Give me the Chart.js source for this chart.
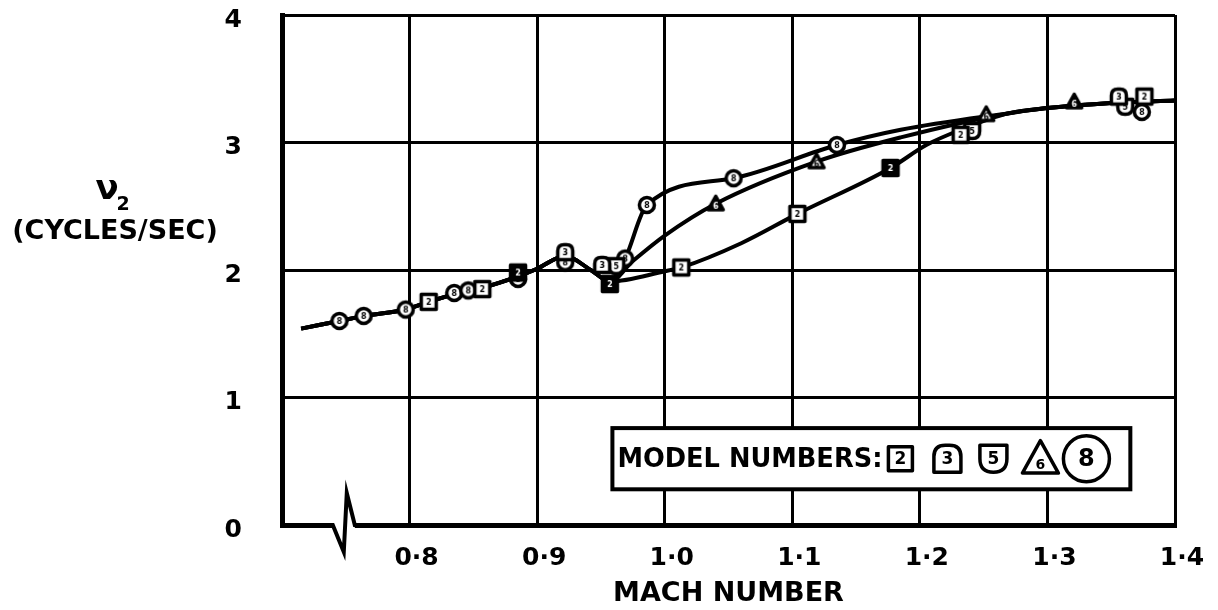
<!DOCTYPE html>
<html lang="en">
<head>
<meta charset="UTF-8">
<title>Mach number vs frequency</title>
<script src="https://cdn.jsdelivr.net/npm/chart.js@4"></script>
<style>
    html, body { margin: 0; padding: 0; background: #fff; }
    #wrap { width: 1218px; height: 610px; }
</style>
</head>
<body>
<div id="wrap"><canvas id="chart" width="1218" height="610"></canvas></div>
<script>
// Axis ticks
const machTicks = [0.7, 0.8, 0.9, 1.0, 1.1, 1.2, 1.3, 1.4];
const machTickLabels = ['', '0·8', '0·9', '1·0', '1·1', '1·2', '1·3', '1·4'];
const freqTicks = [0, 1, 2, 3, 4];
const freqTickLabels = ['0', '1', '2', '3', '4'];

// Faired curves: common subsonic part, three branches, common supersonic part
const lowMach = [0.715, 0.745, 0.765, 0.797, 0.815, 0.835, 0.857, 0.885, 0.900, 0.922, 0.942, 0.957];
const lowV = [1.54, 1.60, 1.64, 1.69, 1.75, 1.81, 1.86, 1.95, 2.01, 2.11, 2.00, 1.91];
const branch8Mach = [0.969, 0.986, 1.054, 1.135, 1.185];
const branch8V = [2.09, 2.51, 2.72, 2.98, 3.10];
const branch6Mach = [0.975, 1.0, 1.040, 1.119, 1.185];
const branch6V = [2.07, 2.27, 2.52, 2.85, 3.04];
const branch2Mach = [1.0, 1.013, 1.06, 1.104, 1.177, 1.205, 1.232];
const branch2V = [1.99, 2.02, 2.21, 2.44, 2.80, 2.98, 3.10];
const highMach = [1.27, 1.30, 1.35, 1.40];
const highV = [3.23, 3.27, 3.31, 3.33];

// Test points by model number
const m2Mach = [0.815, 0.857, 0.885, 0.957, 1.013, 1.104, 1.177, 1.232, 1.376];
const m2V = [1.75, 1.85, 1.98, 1.89, 2.02, 2.44, 2.80, 3.06, 3.36];
const m2Filled = [false, false, true, true, false, false, true, false, false];
const m3Mach = [0.922, 0.951, 1.356];
const m3V = [2.14, 2.04, 3.36];
const m5Mach = [0.962, 1.241, 1.361];
const m5V = [2.03, 3.09, 3.28];
const m6Mach = [1.040, 1.119, 1.252, 1.321];
const m6V = [2.52, 2.85, 3.22, 3.32];
const m6Filled = [true, false, false, true];
const m8Mach = [0.745, 0.764, 0.797, 0.835, 0.846, 0.885, 0.922, 0.969, 0.986, 1.054, 1.135, 1.374];
const m8V = [1.60, 1.64, 1.69, 1.82, 1.84, 1.93, 2.06, 2.09, 2.51, 2.72, 2.98, 3.24];

const modelNumbers = ['2', '3', '5', '6', '8'];
const modelShapes = ['square', 'dome', 'shield', 'triangle', 'circle'];

const FONT = "'DejaVu Sans', sans-serif";

const toPoints = (xs, ys) => xs.map((x, i) => ({ x, y: ys[i] }));

// Draw one model symbol (shape with its number inside)
function drawSymbol(ctx, shape, cx, cy, s, filled, label, lw, fontPx) {
    const h = s / 2;
    const l = cx - h, r = cx + h, t = cy - h, b = cy + h;
    ctx.save();
    ctx.beginPath();
    if (shape === 'square') {
        ctx.rect(l, t, s, s);
    } else if (shape === 'dome') {
        const k = s * 0.42;
        ctx.moveTo(l, b);
        ctx.lineTo(l, t + k);
        ctx.quadraticCurveTo(l, t, l + k, t);
        ctx.lineTo(r - k, t);
        ctx.quadraticCurveTo(r, t, r, t + k);
        ctx.lineTo(r, b);
    } else if (shape === 'shield') {
        const k = s * 0.5;
        ctx.moveTo(l, t);
        ctx.lineTo(r, t);
        ctx.lineTo(r, b - k);
        ctx.quadraticCurveTo(r, b, cx, b);
        ctx.quadraticCurveTo(l, b, l, b - k);
    } else if (shape === 'triangle') {
        ctx.moveTo(cx, t);
        ctx.lineTo(r, cy + h * 0.8);
        ctx.lineTo(l, cy + h * 0.8);
    } else {
        ctx.arc(cx, cy, h, 0, Math.PI * 2);
    }
    ctx.closePath();
    ctx.fillStyle = filled ? '#000' : '#fff';
    ctx.fill();
    ctx.lineWidth = lw;
    ctx.lineJoin = 'round';
    ctx.strokeStyle = '#000';
    ctx.stroke();
    if (label) {
        ctx.fillStyle = filled ? '#fff' : '#000';
        ctx.font = `bold ${fontPx}px ${FONT}`;
        ctx.textAlign = 'center';
        ctx.textBaseline = 'middle';
        const dy = shape === 'triangle' ? h * 0.3 : 0;
        ctx.fillText(label, cx, cy + dy + 1);
    }
    ctx.restore();
}

// Small canvases used as point styles
function makeMarker(shape, label, filled) {
    const c = document.createElement('canvas');
    c.width = 22;
    c.height = 22;
    drawSymbol(c.getContext('2d'), shape, 11, 11, 15, filled, label, 3.5, 8);
    return c;
}

const markerSets = modelNumbers.map((n, i) => ({
    open: makeMarker(modelShapes[i], n, false),
    filled: makeMarker(modelShapes[i], n, true)
}));

const curveDataset = (label, points) => ({
    label,
    data: points,
    showLine: true,
    borderColor: '#000',
    borderWidth: 4,
    pointRadius: 0,
    fill: false,
    cubicInterpolationMode: 'monotone',
    order: 2
});

const markerDataset = (idx, xs, ys, filledFlags) => ({
    label: 'Model ' + modelNumbers[idx],
    data: toPoints(xs, ys),
    showLine: false,
    pointRadius: 7,
    pointStyle: xs.map((_, i) => (filledFlags && filledFlags[i]) ? markerSets[idx].filled : markerSets[idx].open),
    order: 1
});

// Broken axis mark, y-axis title and model key
const decorations = {
    id: 'decorations',
    afterDraw(chart) {
        const { ctx, chartArea, scales } = chart;
        const x = scales.x, y = scales.y;

        // zig-zag break on the Mach axis
        const bx = x.getPixelForValue(0.75);
        const by = chartArea.bottom;
        ctx.save();
        ctx.fillStyle = '#fff';
        ctx.fillRect(bx - 13, by - 4, 22, 8);
        ctx.beginPath();
        ctx.moveTo(bx - 15, by);
        ctx.lineTo(bx - 13, by);
        ctx.lineTo(bx - 2, by + 27);
        ctx.lineTo(bx + 1, by - 32);
        ctx.lineTo(bx + 9, by);
        ctx.lineTo(bx + 11, by);
        ctx.lineWidth = 4;
        ctx.lineJoin = 'miter';
        ctx.strokeStyle = '#000';
        ctx.stroke();
        ctx.restore();

        // y-axis title
        const tx = chartArea.left - 167;
        ctx.save();
        ctx.fillStyle = '#000';
        ctx.textAlign = 'center';
        ctx.textBaseline = 'middle';
        ctx.font = `bold 34px ${FONT}`;
        ctx.fillText('ν', tx - 8, 190);
        ctx.font = `bold 19px ${FONT}`;
        ctx.fillText('2', tx + 8, 205);
        ctx.font = `bold 27px ${FONT}`;
        ctx.fillText('(CYCLES/SEC)', tx, 232, 214);
        ctx.restore();

        // model number key
        const left = x.getPixelForValue(0.959);
        const right = x.getPixelForValue(1.365);
        const top = y.getPixelForValue(0.76);
        const bottom = y.getPixelForValue(0.28);
        const cy = (top + bottom) / 2;
        ctx.save();
        ctx.fillStyle = '#fff';
        ctx.fillRect(left, top, right - left, bottom - top);
        ctx.lineWidth = 4;
        ctx.strokeStyle = '#000';
        ctx.strokeRect(left, top, right - left, bottom - top);
        ctx.fillStyle = '#000';
        ctx.font = `bold 27px ${FONT}`;
        ctx.textAlign = 'left';
        ctx.textBaseline = 'middle';
        ctx.fillText('MODEL NUMBERS:', left + 5, cy + 1, 265);
        const keyX = [288, 335, 381, 428, 474];
        const keySize = [24, 27, 27, 36, 46];
        const keyFont = [17, 17, 17, 14, 24];
        modelNumbers.forEach((n, i) => {
            drawSymbol(ctx, modelShapes[i], left + keyX[i], cy, keySize[i], false, n, 3.5, keyFont[i]);
        });
        ctx.restore();
    }
};

const ctx = document.getElementById('chart').getContext('2d');
const chart = new Chart(ctx, {
    type: 'scatter',
    data: {
        datasets: [
            curveDataset('Model 8 curve', toPoints([...lowMach, ...branch8Mach, ...highMach], [...lowV, ...branch8V, ...highV])),
            curveDataset('Model 6 curve', toPoints([...lowMach, ...branch6Mach, ...highMach], [...lowV, ...branch6V, ...highV])),
            curveDataset('Model 2 curve', toPoints([...lowMach, ...branch2Mach, ...highMach], [...lowV, ...branch2V, ...highV])),
            markerDataset(0, m2Mach, m2V, m2Filled),
            markerDataset(1, m3Mach, m3V),
            markerDataset(2, m5Mach, m5V),
            markerDataset(3, m6Mach, m6V, m6Filled),
            markerDataset(4, m8Mach, m8V)
        ]
    },
    options: {
        responsive: false,
        animation: false,
        devicePixelRatio: 1,
        layout: { padding: { top: 15, right: 43, left: 0, bottom: 0 } },
        plugins: {
            legend: { display: false },
            tooltip: { enabled: false }
        },
        scales: {
            x: {
                type: 'linear',
                min: 0.7,
                max: 1.4,
                afterBuildTicks: (scale) => { scale.ticks = machTicks.map(value => ({ value })); },
                afterFit: (scale) => { scale.height = 85; },
                ticks: {
                    color: '#000',
                    padding: 18,
                    labelOffset: 7,
                    maxRotation: 0,
                    font: { family: FONT, size: 25, weight: 'bold' },
                    callback: (value, index) => machTickLabels[index]
                },
                grid: { color: '#000', lineWidth: 3, drawTicks: false },
                border: { color: '#000', width: 5 },
                title: {
                    display: true,
                    text: 'MACH NUMBER',
                    color: '#000',
                    font: { family: FONT, size: 27, weight: 'bold' },
                    padding: { top: 0, bottom: 0 }
                }
            },
            y: {
                min: 0,
                max: 4,
                afterBuildTicks: (scale) => { scale.ticks = freqTicks.map(value => ({ value })); },
                afterFit: (scale) => {
                    scale.width = 282;
                    scale.paddingTop = 10;
                    scale.paddingBottom = 10;
                },
                ticks: {
                    color: '#000',
                    padding: 40,
                    labelOffset: 5,
                    font: { family: FONT, size: 25, weight: 'bold' },
                    callback: (value, index) => freqTickLabels[index]
                },
                grid: { color: '#000', lineWidth: 3, drawTicks: false },
                border: { color: '#000', width: 5 }
            }
        }
    },
    plugins: [decorations]
});
</script>
</body>
</html>
